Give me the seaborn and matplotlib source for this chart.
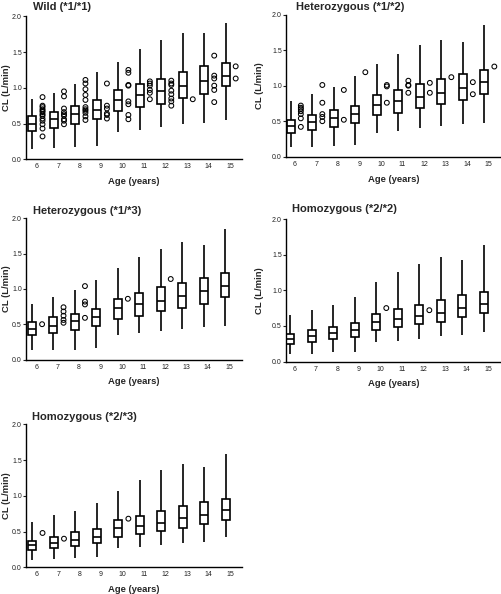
import numpy as np
import pandas as pd
import matplotlib
matplotlib.use("Agg")
import matplotlib.pyplot as plt
import seaborn as sns

sns.set_style("white")
plt.rcParams["font.family"] = ["Liberation Sans", "DejaVu Sans"]

AGES = [6, 7, 8, 9, 10, 11, 12, 13, 14, 15]

# ---- Wild (*1/*1)
WILD_MIN = [0.14, 0.16, 0.17, 0.18, 0.38, 0.41, 0.45, 0.49, 0.51, 0.55]
WILD_Q1 = [0.40, 0.44, 0.50, 0.56, 0.68, 0.73, 0.78, 0.86, 0.91, 1.02]
WILD_MED = [0.49, 0.57, 0.63, 0.69, 0.83, 0.90, 0.95, 1.03, 1.10, 1.17]
WILD_Q3 = [0.60, 0.66, 0.74, 0.83, 0.97, 1.05, 1.13, 1.22, 1.30, 1.35]
WILD_MAX = [0.84, 0.93, 1.06, 1.22, 1.36, 1.54, 1.67, 1.76, 1.76, 1.90]
WILD_OUT_AGE = ([6] * 13 + [7] * 9 + [8] * 11 + [9] * 6 + [10] * 8 + [11] * 6
                + [12] * 8 + [13] * 1 + [14] * 6 + [15] * 2)
WILD_OUT_CL = [0.87, 0.75, 0.73, 0.70, 0.68, 0.66, 0.63, 0.61, 0.57, 0.54, 0.49, 0.43, 0.32,
               0.95, 0.88, 0.71, 0.66, 0.63, 0.61, 0.56, 0.54, 0.49,
               1.11, 1.06, 0.98, 0.90, 0.83, 0.73, 0.70, 0.68, 0.65, 0.60, 0.55,
               1.06, 0.75, 0.71, 0.64, 0.62, 0.57,
               1.25, 1.21, 1.04, 1.03, 0.81, 0.77, 0.62, 0.56,
               1.09, 1.06, 1.03, 0.97, 0.93, 0.84,
               1.10, 1.06, 1.04, 0.96, 0.91, 0.85, 0.81, 0.75,
               0.84,
               1.45, 1.17, 1.13, 1.03, 0.97, 0.80,
               1.30, 1.13]

# ---- Heterozygous (*1/*2)
H12_MIN = [0.13, 0.14, 0.15, 0.17, 0.34, 0.36, 0.40, 0.43, 0.46, 0.48]
H12_Q1 = [0.33, 0.38, 0.42, 0.47, 0.59, 0.62, 0.68, 0.74, 0.80, 0.89]
H12_MED = [0.43, 0.49, 0.54, 0.60, 0.73, 0.79, 0.84, 0.90, 0.97, 1.05]
H12_Q3 = [0.52, 0.59, 0.66, 0.72, 0.87, 0.94, 1.03, 1.10, 1.16, 1.22]
H12_MAX = [0.78, 0.89, 0.98, 1.13, 1.30, 1.45, 1.58, 1.65, 1.61, 1.86]
H12_OUT_AGE = [6] * 7 + [7] * 5 + [8] * 2 + [9] + [10] * 3 + [11] * 4 + [12] * 2 + [13] + [14] * 2 + [15]
H12_OUT_CL = [0.72, 0.69, 0.67, 0.64, 0.60, 0.54, 0.42,
              1.01, 0.76, 0.60, 0.56, 0.50,
              0.94, 0.52,
              1.19,
              1.01, 0.99, 0.76,
              1.07, 1.01, 1.00, 0.90,
              1.04, 0.90,
              1.12,
              1.05, 0.88,
              1.27]

# ---- Heterozygous (*1/*3)
H13_MIN = [0.13, 0.14, 0.14, 0.16, 0.34, 0.37, 0.41, 0.43, 0.46, 0.48]
H13_Q1 = [0.34, 0.38, 0.42, 0.47, 0.58, 0.62, 0.68, 0.73, 0.79, 0.88]
H13_MED = [0.43, 0.48, 0.54, 0.60, 0.73, 0.79, 0.83, 0.90, 0.97, 1.04]
H13_Q3 = [0.53, 0.60, 0.65, 0.72, 0.86, 0.94, 1.02, 1.09, 1.15, 1.22]
H13_MAX = [0.79, 0.89, 0.98, 1.13, 1.30, 1.45, 1.57, 1.66, 1.62, 1.85]
H13_OUT_AGE = [6] + [7] * 5 + [8] * 4 + [10] + [12]
H13_OUT_CL = [0.50,
              0.74, 0.68, 0.62, 0.56, 0.52,
              1.04, 0.82, 0.78, 0.59,
              0.86,
              1.14]

# ---- Homozygous (*2/*2)
H22_MIN = [0.10, 0.11, 0.13, 0.13, 0.27, 0.29, 0.32, 0.36, 0.37, 0.42]
H22_Q1 = [0.24, 0.27, 0.31, 0.34, 0.44, 0.48, 0.52, 0.56, 0.62, 0.68]
H22_MED = [0.32, 0.36, 0.40, 0.44, 0.55, 0.60, 0.64, 0.68, 0.75, 0.81]
H22_Q3 = [0.38, 0.44, 0.49, 0.54, 0.67, 0.74, 0.80, 0.87, 0.93, 0.98]
H22_MAX = [0.65, 0.72, 0.80, 0.91, 1.11, 1.25, 1.37, 1.47, 1.42, 1.63]
H22_OUT_AGE = [10, 12]
H22_OUT_CL = [0.75, 0.72]

# ---- Homozygous (*2/*3)
H23_MIN = [0.10, 0.11, 0.13, 0.14, 0.27, 0.29, 0.31, 0.34, 0.36, 0.42]
H23_Q1 = [0.24, 0.27, 0.30, 0.34, 0.43, 0.46, 0.51, 0.55, 0.60, 0.66]
H23_MED = [0.31, 0.34, 0.38, 0.43, 0.55, 0.58, 0.62, 0.69, 0.73, 0.80]
H23_Q3 = [0.37, 0.43, 0.49, 0.54, 0.66, 0.72, 0.79, 0.86, 0.92, 0.96]
H23_MAX = [0.63, 0.73, 0.79, 0.90, 1.07, 1.22, 1.36, 1.45, 1.40, 1.58]
H23_OUT_AGE = [6, 7, 10]
H23_OUT_CL = [0.48, 0.40, 0.68]

TITLES = ["Wild (*1/*1)", "Heterozygous (*1/*2)", "Heterozygous (*1/*3)",
          "Homozygous (*2/*2)", "Homozygous (*2/*3)"]
YTICKS = [0.0, 0.5, 1.0, 1.5, 2.0]

panels = [
    (WILD_MIN, WILD_Q1, WILD_MED, WILD_Q3, WILD_MAX, WILD_OUT_AGE, WILD_OUT_CL),
    (H12_MIN, H12_Q1, H12_MED, H12_Q3, H12_MAX, H12_OUT_AGE, H12_OUT_CL),
    (H13_MIN, H13_Q1, H13_MED, H13_Q3, H13_MAX, H13_OUT_AGE, H13_OUT_CL),
    (H22_MIN, H22_Q1, H22_MED, H22_Q3, H22_MAX, H22_OUT_AGE, H22_OUT_CL),
    (H23_MIN, H23_Q1, H23_MED, H23_Q3, H23_MAX, H23_OUT_AGE, H23_OUT_CL),
]

W, H = 502, 594
fig = plt.figure(figsize=(W / 100, H / 100), dpi=100)

# pixel layout: (left, right, top(y=2.0), bottom(y=0)), title pos, ylabel offset
layout = [
    (26.0, 241.7, 16.3, 159.3, 33.0, 7.0, 20.0),
    (286.0, 501.0, 14.7, 156.7, 295.7, 7.0, 26.0),
    (26.0, 241.7, 218.3, 359.5, 33.0, 211.5, 20.0),
    (286.0, 501.0, 219.0, 361.5, 291.7, 209.5, 26.0),
    (26.0, 241.7, 424.3, 567.3, 32.0, 416.5, 20.0),
]
xlims = [(-0.30, 9.75), (-0.22, 9.78), (-0.28, 9.78), (-0.19, 9.8), (-0.30, 9.75)]

order = [str(a) for a in AGES]
for k, (pdata, lay) in enumerate(zip(panels, layout)):
    mins, q1s, meds, q3s, maxs, out_age, out_cl = pdata
    l, r, t, b, tx, ty, yoff = lay
    ax = fig.add_axes([l / W, 1 - b / H, (r - l) / W, (b - t) / H])
    rows = []
    for i, a in enumerate(AGES):
        for v in (mins[i], q1s[i], meds[i], q3s[i], maxs[i]):
            rows.append((str(a), v))
    df = pd.DataFrame(rows, columns=["age", "cl"])
    sns.boxplot(data=df, x="age", y="cl", order=order, whis=(0, 100), width=0.37,
                showcaps=False, color="white", linecolor="black", linewidth=1.2,
                fliersize=0, saturation=1, ax=ax)
    out_pos = [AGES.index(a) + 0.47 for a in out_age]
    sns.scatterplot(x=out_pos, y=out_cl, ax=ax, marker="o", s=12,
                    facecolors="none", edgecolor="black", linewidth=0.75, legend=False)
    ax.set_xlim(*xlims[k])
    ax.set_ylim(0, 2.0)
    ax.set_yticks(YTICKS)
    ax.set_yticklabels([f"{v:.1f}" for v in YTICKS])
    ax.set_xticks([i + 0.2 for i in range(len(AGES))])
    ax.set_xticklabels(order)
    ax.tick_params(axis="x", length=0, pad=3.0, labelsize=5, colors="#222222")
    ax.tick_params(axis="y", length=2.0, width=0.8, pad=1.0, labelsize=5, colors="#222222",
                   left=True)
    for s in ("top", "right"):
        ax.spines[s].set_visible(False)
    for s in ("left", "bottom"):
        ax.spines[s].set_color("black")
        ax.spines[s].set_linewidth(1.0)
    ax.set_xlabel("Age (years)", fontsize=6.8, fontweight="bold", va="center")
    ax.xaxis.set_label_coords(0.5, -22.5 / (b - t))
    ax.set_ylabel("CL (L/min)", fontsize=6.8, fontweight="bold", va="center")
    ax.yaxis.set_label_coords(-yoff / (r - l), 0.5)
    fig.text(tx / W, 1 - ty / H, TITLES[k], fontsize=8, fontweight="bold",
             ha="left", va="center")

fig.savefig("out.png", dpi=100)
